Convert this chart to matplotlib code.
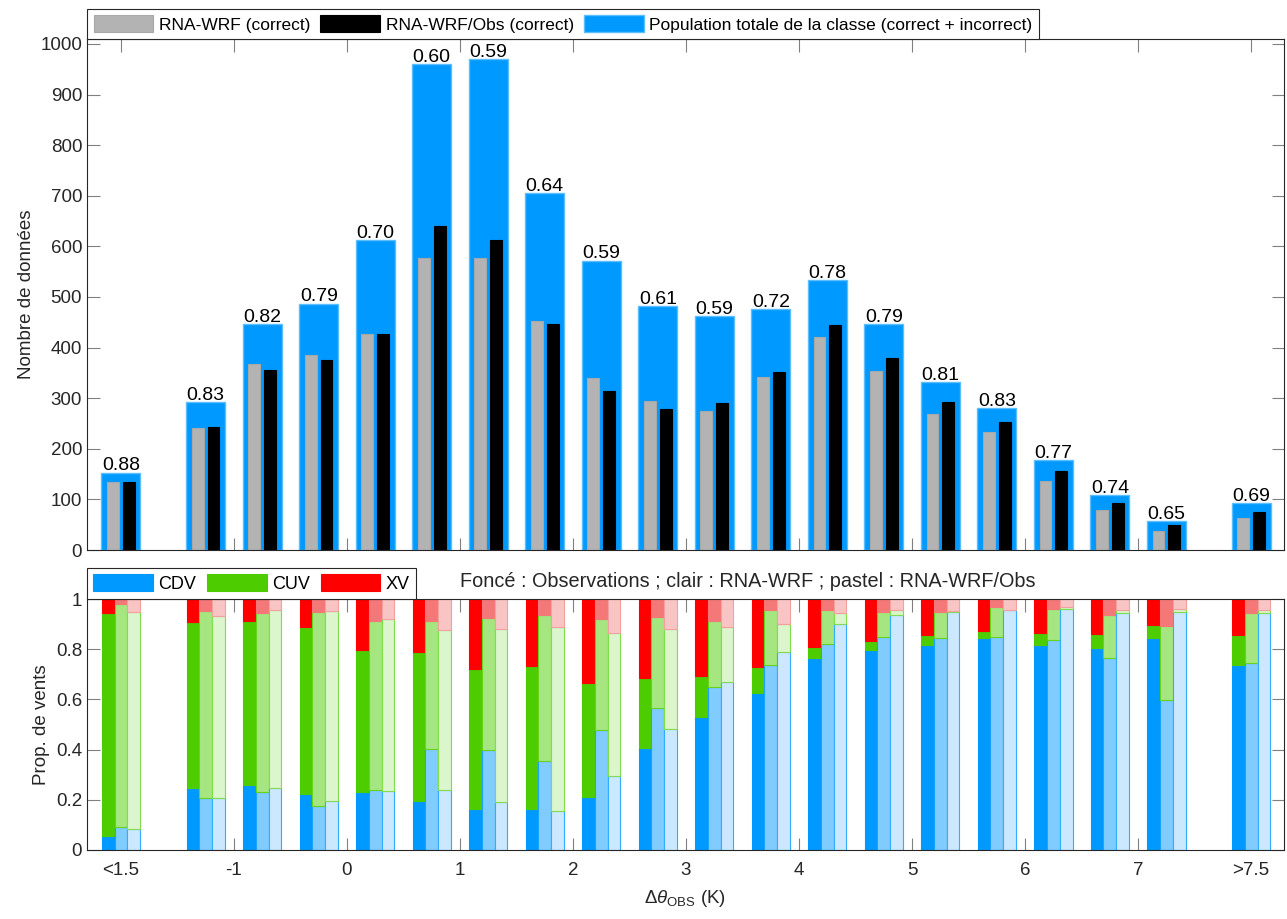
import numpy as np
import matplotlib.pyplot as plt

plt.rcParams['font.family'] = ['Liberation Sans', 'DejaVu Sans']
plt.rcParams['mathtext.fontset'] = 'custom'
plt.rcParams['mathtext.rm'] = 'Liberation Sans'
plt.rcParams['mathtext.it'] = 'Liberation Sans:italic'

# class centres (K): first class is "<1.5", last is ">7.5"
x = np.array([-2, -1.25, -0.75, -0.25, 0.25, 0.75, 1.25, 1.75, 2.25, 2.75,
              3.25, 3.75, 4.25, 4.75, 5.25, 5.75, 6.25, 6.75, 7.25, 8])
tick_pos = [-2, -1, 0, 1, 2, 3, 4, 5, 6, 7, 8]
tick_lab = ['<1.5', '-1', '0', '1', '2', '3', '4', '5', '6', '7', '>7.5']

# nombre de donnees par classe
n_total = [153, 293, 447, 487, 613, 960, 970, 705, 572, 482,
           463, 476, 534, 446, 332, 281, 177, 108, 58, 93]
n_wrf = [135, 242, 368, 385, 427, 576, 576, 453, 339, 295,
         275, 341, 420, 354, 269, 233, 137, 80, 38, 64]
n_obs = [135, 244, 356, 375, 426, 640, 613, 446, 314, 279,
         290, 351, 444, 379, 293, 252, 156, 92, 49, 75]
ratio_lab = ['0.88', '0.83', '0.82', '0.79', '0.70', '0.60', '0.59', '0.64', '0.59', '0.61',
             '0.59', '0.72', '0.78', '0.79', '0.81', '0.83', '0.77', '0.74', '0.65', '0.69']

# proportions de vents (CDV, CUV ; XV = reste)
obs_cdv = [0.056, 0.245, 0.258, 0.222, 0.233, 0.194, 0.162, 0.162, 0.210, 0.408,
           0.529, 0.626, 0.766, 0.795, 0.815, 0.845, 0.815, 0.806, 0.843, 0.737]
obs_cuv = [0.888, 0.662, 0.653, 0.668, 0.565, 0.596, 0.561, 0.572, 0.456, 0.278,
           0.163, 0.104, 0.041, 0.039, 0.041, 0.029, 0.051, 0.056, 0.053, 0.121]
wrf_cdv = [0.092, 0.209, 0.233, 0.177, 0.240, 0.402, 0.398, 0.354, 0.477, 0.564,
           0.649, 0.737, 0.820, 0.848, 0.843, 0.850, 0.836, 0.766, 0.597, 0.747]
wrf_cuv = [0.889, 0.743, 0.711, 0.773, 0.671, 0.510, 0.526, 0.581, 0.442, 0.365,
           0.264, 0.221, 0.137, 0.102, 0.107, 0.118, 0.124, 0.169, 0.296, 0.198]
wobs_cdv = [0.085, 0.209, 0.245, 0.195, 0.235, 0.239, 0.191, 0.156, 0.294, 0.481,
            0.669, 0.790, 0.900, 0.937, 0.947, 0.955, 0.961, 0.945, 0.948, 0.945]
wobs_cuv = [0.863, 0.723, 0.711, 0.757, 0.686, 0.637, 0.691, 0.731, 0.570, 0.401,
            0.219, 0.110, 0.044, 0.021, 0.005, 0.003, 0.007, 0.010, 0.014, 0.010]

fig = plt.figure(figsize=(12.87, 9.19), dpi=100)
ax1 = fig.add_axes([0.0676, 0.4015, 0.930, 0.5557])
ax2 = fig.add_axes([0.0676, 0.0751, 0.930, 0.2731])

for ax in (ax1, ax2):
    ax.set_xlim(-2.3, 8.29)
    ax.set_xticks(tick_pos)
    ax.tick_params(direction='in', top=True, right=True, length=9, width=0.8,
                   color='#808080', labelsize=13.5, labelcolor='#262626')
    for s in ax.spines.values():
        s.set_color('#262626')
        s.set_linewidth(0.8)
    ax.set_axisbelow(True)
ax2.tick_params(axis='x', pad=9)

# --- panneau du haut
b_tot = ax1.bar(x, n_total, width=0.345, color='#0099FF', edgecolor='#5CBEFF', linewidth=1)
b_wrf = ax1.bar(x - 0.07, n_wrf, width=0.104, color='#B3B3B3', edgecolor='#A8A8A8', linewidth=0.8)
b_obs = ax1.bar(x + 0.07, n_obs, width=0.104, color='black', edgecolor='black', linewidth=0.8)
for xi, h, s in zip(x, n_total, ratio_lab):
    ax1.annotate(s, (xi, h), xytext=(0, 1.5), textcoords='offset points',
                 ha='center', va='baseline', fontsize=14)
ax1.set_ylim(0, 1009)
ax1.set_yticks(range(0, 1001, 100))
ax1.set_xticklabels([])
ax1.set_ylabel('Nombre de données', fontsize=13.5, color='#262626')
leg1 = ax1.legend([b_wrf, b_obs, b_tot],
                  ['RNA-WRF (correct)', 'RNA-WRF/Obs (correct)',
                   'Population totale de la classe (correct + incorrect)'],
                  loc='lower left', bbox_to_anchor=(0, 1), borderaxespad=0, ncol=3,
                  fancybox=False, edgecolor='#262626', framealpha=1, fontsize=12.5,
                  handlelength=3.45, handleheight=1.15, handletextpad=0.3,
                  columnspacing=0.6, borderpad=0.38)
leg1.get_frame().set_linewidth(0.8)

# --- panneau du bas
w = 0.113
sets = [(-w, obs_cdv, obs_cuv, ['#0099FF', '#4DCC00', '#FF0000'], ['#0099FF', '#4DCC00', '#FF0000']),
        (0.0, wrf_cdv, wrf_cuv, ['#80CCFF', '#A6E680', '#F57878'], ['#1AA3FF', '#66D41A', '#F57878']),
        (w, wobs_cdv, wobs_cuv, ['#CCE8FF', '#DBF5CC', '#F8C4C4'], ['#33ADFF', '#80DD4D', '#F5A0A0'])]
handles = None
for off, cdv, cuv, cols, edges in sets:
    cdv = np.array(cdv)
    cuv = np.array(cuv)
    xv = 1 - cdv - cuv
    h1 = ax2.bar(x + off, cdv, width=w, color=cols[0], edgecolor=edges[0], linewidth=0.8)
    h2 = ax2.bar(x + off, cuv, width=w, bottom=cdv, color=cols[1], edgecolor=edges[1], linewidth=0.8)
    h3 = ax2.bar(x + off, xv, width=w, bottom=cdv + cuv, color=cols[2], edgecolor=edges[2], linewidth=0.8)
    if handles is None:
        handles = [h1, h2, h3]
ax2.set_ylim(0, 1)
ax2.set_yticks([0, 0.2, 0.4, 0.6, 0.8, 1])
ax2.set_yticklabels(['0', '0.2', '0.4', '0.6', '0.8', '1'])
ax2.set_xticklabels(tick_lab)
ax2.set_ylabel('Prop. de vents', fontsize=13.5, color='#262626')
ax2.set_xlabel(r'$\Delta\theta_{\mathrm{OBS}}$ (K)', fontsize=13.5, color='#262626', labelpad=6)
leg2 = ax2.legend(handles, ['CDV', 'CUV', 'XV'], loc='lower left', bbox_to_anchor=(0, 1),
                  borderaxespad=0, ncol=3, fancybox=False, edgecolor='#262626',
                  framealpha=1, fontsize=13, handlelength=3.3, handleheight=1.1,
                  handletextpad=0.3, columnspacing=0.6, borderpad=0.35)
leg2.get_frame().set_linewidth(0.8)
ax2.text(0.3116, 1.068, 'Foncé : Observations ; clair : RNA-WRF ; pastel : RNA-WRF/Obs',
         transform=ax2.transAxes, fontsize=14.3, va='center', ha='left', color='#262626')

plt.savefig('out.png', dpi=100)
